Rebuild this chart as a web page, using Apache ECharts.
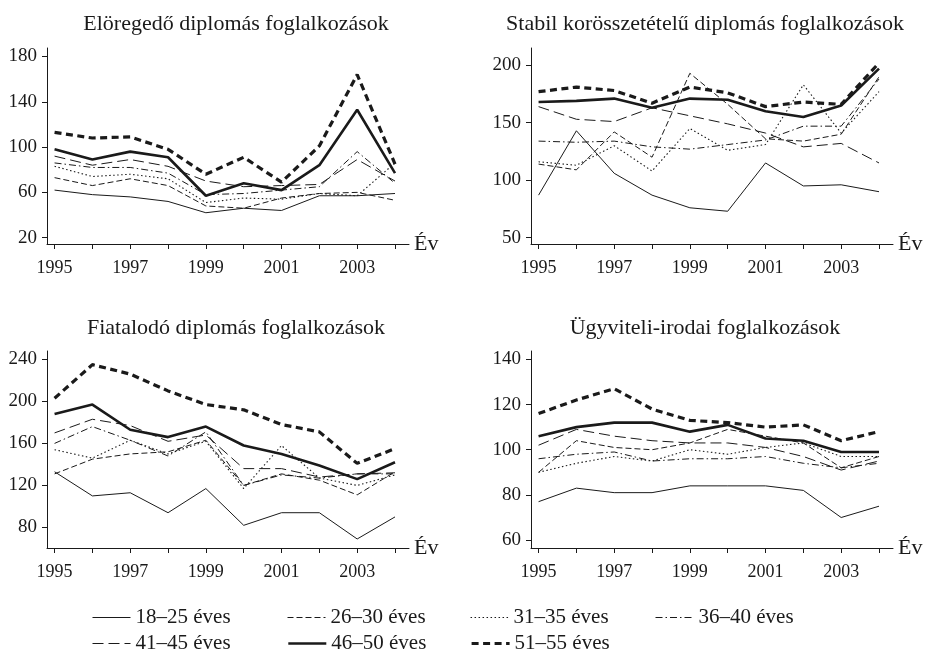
<!DOCTYPE html>
<html>
<head>
<meta charset="utf-8">
<script src="https://cdn.jsdelivr.net/npm/echarts@6/dist/echarts.min.js"></script>
<style>
  html, body { margin: 0; padding: 0; background: #fff; }
  #main { width: 927px; height: 654px; }
</style>
</head>
<body>
<div id="main"></div>
<script>
var years = [1995, 1996, 1997, 1998, 1999, 2000, 2001, 2002, 2003, 2004];
var yearLabels = [1995, 1997, 1999, 2001, 2003];
var ageGroups = ['18–25 éves', '26–30 éves', '31–35 éves', '36–40 éves', '41–45 éves', '46–50 éves', '51–55 éves'];
var panelTitles = [
  'Elöregedő diplomás foglalkozások',
  'Stabil korösszetételű diplomás foglalkozások',
  'Fiatalodó diplomás foglalkozások',
  'Ügyviteli-irodai foglalkozások'
];

// one row per age group, same order as ageGroups
var eloregedo = [
  [62, 58, 56, 52, 42, 46, 44, 57, 57, 59],
  [73, 66, 72, 66, 48, 46, 55, 59, 60, 53],
  [83, 74, 76, 72, 51, 55, 54, 59, 57, 86],
  [86, 82, 82, 77, 58, 59, 62, 65, 96, 68],
  [92, 84, 89, 83, 70, 65, 66, 67, 89, 70],
  [98, 89, 96, 91, 57, 68, 62, 84, 133, 77],
  [113, 108, 109, 98, 76, 91, 69, 101, 164, 85]
];
var stabil = [
  [87, 143, 106, 87, 76, 73, 115, 95, 96, 90],
  [114, 109, 142, 120, 193, 166, 136, 134, 140, 190],
  [116, 113, 130, 108, 145, 126, 131, 183, 141, 177],
  [134, 133, 134, 129, 127, 131, 135, 147, 147, 188],
  [164, 153, 151, 163, 156, 149, 141, 129, 132, 115],
  [168, 169, 171, 163, 171, 170, 160, 155, 165, 197],
  [177, 181, 178, 167, 181, 176, 164, 168, 166, 202]
];
var fiatalodo = [
  [133, 110, 113, 94, 117, 82, 94, 94, 69, 90],
  [131, 145, 150, 152, 163, 120, 131, 125, 111, 133],
  [154, 146, 163, 150, 162, 117, 158, 127, 120, 130],
  [160, 176, 163, 148, 171, 120, 130, 127, 131, 131],
  [170, 183, 177, 162, 168, 136, 136, 128, 131, 132],
  [188, 197, 173, 166, 176, 158, 150, 139, 126, 142],
  [203, 235, 226, 210, 197, 192, 178, 171, 141, 155]
];
var ugyviteli = [
  [77, 83, 81, 81, 84, 84, 84, 82, 70, 75],
  [90, 104, 101, 100, 103, 109, 106, 103, 92, 97],
  [90, 94, 97, 95, 100, 98, 101, 103, 97, 97],
  [96, 98, 99, 95, 96, 96, 97, 94, 92, 94],
  [102, 109, 106, 104, 103, 103, 101, 97, 91, 95],
  [106, 110, 112, 112, 108, 111, 105, 104, 99, 99],
  [116, 122, 127, 118, 113, 112, 110, 111, 104, 108]
];
var panelData = [eloregedo, stabil, fiatalodo, ugyviteli];

var yTicks = [
  [20, 60, 100, 140, 180],
  [50, 100, 150, 200],
  [80, 120, 160, 200, 240],
  [60, 80, 100, 120, 140]
];
var yRange = [[14.4, 187.5], [44.5, 215], [60.4, 248], [56.5, 143.7]];

var ink = '#1a1a1a';
var serif = 'Liberation Serif';

// line look of each age group
var lineStyles = [
  { width: 1, type: 'solid' },
  { width: 1, type: [6, 3] },
  { width: 1.1, type: [1.5, 2.5] },
  { width: 1, type: [7, 3, 1.5, 3] },
  { width: 1, type: [11, 5] },
  { width: 2.6, type: 'solid' },
  { width: 3.2, type: [7, 4.5] }
];

var grids = [
  { left: 47, top: 48, right: 518, bottom: 410 },
  { left: 531, top: 48, right: 34, bottom: 410 },
  { left: 47, top: 351, right: 518, bottom: 106 },
  { left: 531, top: 351, right: 34, bottom: 106 }
];
var titlePos = [[231, 8], [700, 8], [231, 312], [700, 312]];

var chart = echarts.init(document.getElementById('main'), null, { renderer: 'canvas' });

var xAxes = [], yAxes = [], series = [], titles = [];
grids.forEach(function (g, p) {
  titles.push({
    text: panelTitles[p],
    left: titlePos[p][0],
    top: titlePos[p][1],
    textAlign: 'center',
    textStyle: { fontFamily: serif, fontSize: 22, fontWeight: 'normal', color: ink }
  });
  xAxes.push({
    type: 'value',
    gridIndex: p,
    min: 1994.8,
    max: 2004.37,
    name: 'Év',
    nameLocation: 'end',
    nameGap: 5,
    nameTextStyle: { fontFamily: serif, fontSize: 22, color: ink, verticalAlign: 'middle' },
    splitLine: { show: false },
    axisLine: { lineStyle: { color: ink, width: 1 } },
    axisTick: { length: 5, lineStyle: { color: ink }, customValues: years },
    axisLabel: {
      customValues: yearLabels,
      margin: 15,
      fontFamily: serif, fontSize: 18, color: ink,
      formatter: function (v) { return String(v); }
    }
  });
  yAxes.push({
    type: 'value',
    gridIndex: p,
    min: yRange[p][0],
    max: yRange[p][1],
    splitLine: { show: false },
    axisLine: { show: true, lineStyle: { color: ink, width: 1 } },
    axisTick: { show: true, length: 5, lineStyle: { color: ink }, customValues: yTicks[p] },
    axisLabel: {
      customValues: yTicks[p],
      margin: 10,
      fontFamily: serif, fontSize: 19, color: ink
    }
  });
  panelData[p].forEach(function (vals, k) {
    series.push({
      name: ageGroups[k],
      type: 'line',
      xAxisIndex: p,
      yAxisIndex: p,
      symbol: 'none',
      silent: true,
      z: 2 + k,
      lineStyle: { color: ink, width: lineStyles[k].width, type: lineStyles[k].type },
      itemStyle: { color: ink },
      data: years.map(function (y, i) { return [y, vals[i]]; })
    });
  });
});

var legendLeft = [92, 287, 470, 655];
var legendTop = [607, 633];
var legends = ageGroups.map(function (name, i) {
  var row = i < 4 ? 0 : 1;
  var col = i < 4 ? i : i - 4;
  return {
    data: [name],
    left: legendLeft[col],
    top: legendTop[row],
    padding: 0,
    itemWidth: 38,
    itemHeight: 12,
    itemGap: 0,
    selectedMode: false,
    itemStyle: { opacity: 0, borderWidth: 0 },
    lineStyle: { color: ink, width: lineStyles[i].width, type: lineStyles[i].type },
    textStyle: { fontFamily: serif, fontSize: 21, color: ink }
  };
});

var option = {
  backgroundColor: '#fff',
  animation: false,
  title: titles,
  legend: legends,
  grid: grids,
  xAxis: xAxes,
  yAxis: yAxes,
  series: series
};

chart.setOption(option);
</script>
</body>
</html>
